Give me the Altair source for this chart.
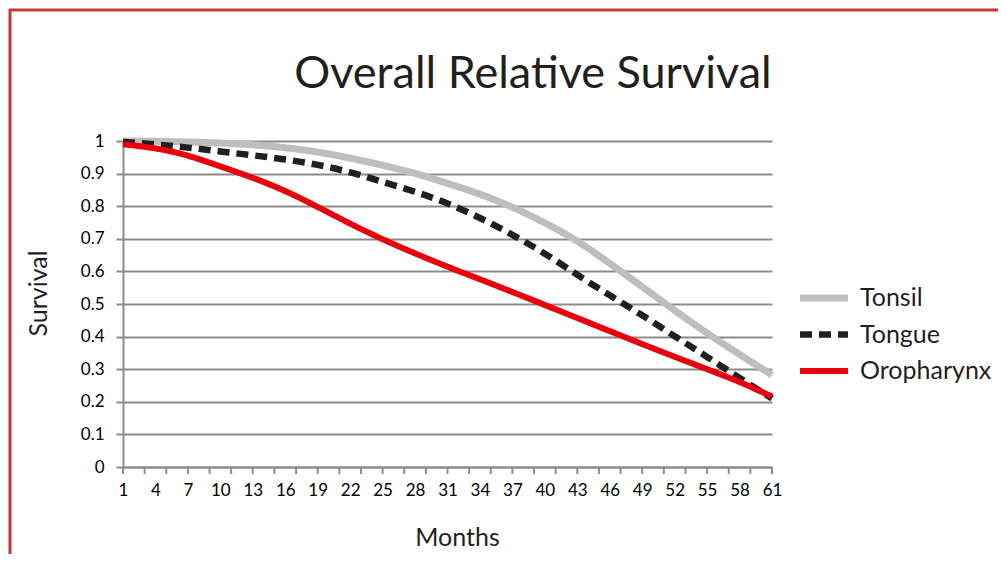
import altair as alt
import pandas as pd

# ---- data ----
months = [1, 4, 7, 10, 13, 16, 19, 22, 25, 28, 31, 34, 37, 40, 43, 46, 49, 52, 55, 58, 61]
tonsil = [1.0, 0.999, 0.997, 0.994, 0.989, 0.980, 0.967, 0.948, 0.926, 0.902, 0.870,
          0.838, 0.798, 0.750, 0.695, 0.625, 0.553, 0.480, 0.410, 0.345, 0.282]
tongue = [0.997, 0.990, 0.980, 0.968, 0.956, 0.944, 0.928, 0.905, 0.875, 0.845, 0.810,
          0.765, 0.713, 0.656, 0.589, 0.526, 0.466, 0.401, 0.338, 0.273, 0.210]
oropharynx = [0.99, 0.979, 0.957, 0.922, 0.888, 0.848, 0.798, 0.746, 0.698, 0.655, 0.614,
              0.576, 0.537, 0.497, 0.457, 0.417, 0.377, 0.338, 0.300, 0.262, 0.216]
series_names = ["Tonsil", "Tongue", "Oropharynx"]
series_colors = ["#bcbec0", "#231f20", "#e8000d"]
x_label_values = months
x_tick_values = list(range(1, 62, 2))
y_values = [0, 0.1, 0.2, 0.3, 0.4, 0.5, 0.6, 0.7, 0.8, 0.9, 1.0]
title_text = ["Overall Relative Survival"]

rows = []
for name, vals in zip(series_names, [tonsil, tongue, oropharynx]):
    for m, v in zip(months, vals):
        rows.append({"Months": m, "Survival": v, "Series": name})
df = pd.DataFrame(rows)
ticks_df = pd.DataFrame({"Months": x_tick_values})
title_df = pd.DataFrame({"t": title_text})
legend_df = pd.DataFrame({"Series": series_names})
dummy = pd.DataFrame({"a": [0]})

W, H = 649, 326
PAD_L, PAD_T = 115, 133
TOTAL_W, TOTAL_H = 990, 546
FONT = "Lato"
GRID = "#8c8c8c"
BORDER = "#c0393b"

x_scale = alt.Scale(domain=[1, 61], nice=False, zero=False)
y_scale = alt.Scale(domain=[0, 1], nice=False)
color_scale = alt.Scale(domain=series_names, range=series_colors)
dash_scale = alt.Scale(domain=series_names, range=[[1, 0], [12, 7], [1, 0]])
width_scale = alt.Scale(domain=series_names, range=[7, 6, 5])

x_axis = alt.Axis(values=x_label_values, title="Months", ticks=False, grid=False,
                  labelPadding=15, labelFlush=False, titleX=334, titleY=70,
                  titleBaseline="middle", titleAlign="center")
y_axis = alt.Axis(values=y_values, format=".1~f", title="Survival", grid=True,
                  tickSize=7, labelPadding=12, titleX=-85, titleY=152, titleAngle=-90,
                  titleBaseline="middle", titleAlign="center")

xticks = alt.Chart(ticks_df).mark_rule(color=GRID, strokeWidth=2).encode(
    x=alt.X("Months:Q", scale=x_scale, axis=x_axis),
    y=alt.value(H), y2=alt.value(H + 7),
)

lines = alt.Chart(df).mark_line(interpolate="basis", strokeCap="butt").encode(
    x=alt.X("Months:Q", scale=x_scale, axis=x_axis),
    y=alt.Y("Survival:Q", scale=y_scale, axis=y_axis),
    color=alt.Color("Series:N", scale=color_scale, legend=None),
    strokeDash=alt.StrokeDash("Series:N", scale=dash_scale, legend=None),
    strokeWidth=alt.StrokeWidth("Series:N", scale=width_scale, legend=None),
)

# manual legend
leg_y = alt.Y("Series:N", axis=None,
              scale=alt.Scale(type="point", domain=series_names, range=[157, 230], padding=0))
leg_sym = alt.Chart(legend_df).mark_rule(strokeCap="butt").encode(
    x=alt.value(677), x2=alt.value(725), y=leg_y,
    color=alt.Color("Series:N", scale=color_scale, legend=None),
    strokeDash=alt.StrokeDash("Series:N", scale=dash_scale, legend=None),
    strokeWidth=alt.StrokeWidth("Series:N", scale=width_scale, legend=None),
)
leg_txt = alt.Chart(legend_df).mark_text(
    font=FONT, fontSize=25, color="#231f20", align="left", baseline="middle"
).encode(x=alt.value(737), y=leg_y, text="Series:N")
legend_layer = alt.layer(leg_sym, leg_txt)

title = alt.Chart(title_df).mark_text(
    font=FONT, fontSize=45, color="#231f20", align="center", baseline="alphabetic"
).encode(text="t:N", x=alt.value(410), y=alt.value(-53))

border_top = alt.Chart(dummy).mark_rule(color=BORDER, strokeWidth=3).encode(
    x=alt.value(-PAD_L + 1), x2=alt.value(TOTAL_W - PAD_L), y=alt.value(-PAD_T + 2),
)
border_left = alt.Chart(dummy).mark_rule(color=BORDER, strokeWidth=3).encode(
    x=alt.value(-PAD_L + 2), y=alt.value(-PAD_T + 1), y2=alt.value(TOTAL_H - PAD_T),
)

chart = alt.layer(xticks, lines, legend_layer, title, border_top, border_left).resolve_scale(
    y="independent"
).properties(
    width=W, height=H,
    autosize=alt.AutoSizeParams(type="none"),
    padding={"left": PAD_L, "top": PAD_T, "right": TOTAL_W - PAD_L - W,
             "bottom": TOTAL_H - PAD_T - H},
).configure_view(stroke=None).configure_axis(
    gridColor=GRID, gridWidth=2, domainColor=GRID, domainWidth=2,
    tickColor=GRID, tickWidth=2, labelFont=FONT, labelFontSize=17,
    labelColor="#000000", titleFont=FONT, titleFontSize=25,
    titleFontWeight="normal", titleColor="#231f20",
)

chart.save("out.html", embed_options={"renderer": "svg", "actions": False})
